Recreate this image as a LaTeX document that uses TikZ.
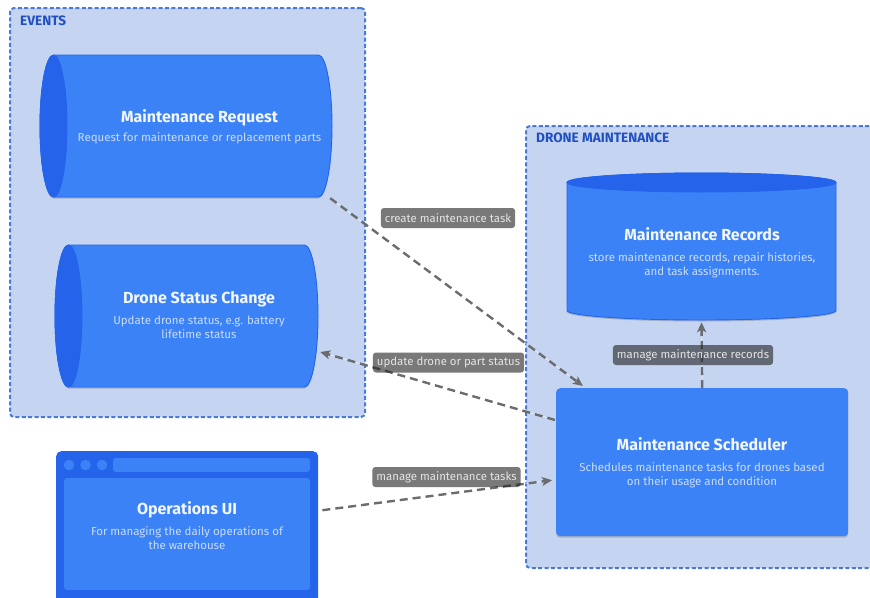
\documentclass[tikz,border=0pt]{standalone}
\usepackage{fontspec}
\setmainfont{Fira Sans}
\usetikzlibrary{arrows.meta,shadows}

\definecolor{grpfill}{HTML}{C5D5F1}
\definecolor{grpline}{HTML}{4B7AD6}
\definecolor{grptext}{HTML}{2150C0}
\definecolor{blueA}{HTML}{3B82F6}
\definecolor{blueB}{HTML}{2563EB}
\definecolor{titletext}{HTML}{F2F7FF}
\definecolor{desctext}{HTML}{C9DCFC}
\definecolor{connline}{HTML}{6B6C70}
\definecolor{lblfill}{HTML}{262626}
\definecolor{lbltext}{HTML}{E4E4E4}

\tikzset{
  grp/.style={draw=grpline, fill=grpfill, line width=2pt,
    dash pattern=on 4pt off 2.4pt, rounded corners=4pt, inner sep=0},
  grptitle/.style={anchor=base west, text=grptext, inner sep=0,
    font=\bfseries\fontsize{13.6}{16}\selectfont},
  shapebox/.style={rectangle, draw=none, fill=none, inner sep=0},
  sdw/.style={drop shadow={shadow xshift=0pt, shadow yshift=-1.5pt,
    opacity=.18, fill=black}},
  cylbody/.style={fill=blueA, draw=blueB, line width=.9pt, sdw},
  cylcap/.style={fill=blueB, draw=blueB, line width=.9pt},
  ttl/.style={anchor=base, text=titletext, inner sep=0,
    font=\bfseries\fontsize{16}{19}\selectfont},
  dsc/.style={anchor=base, text=desctext, inner sep=0, align=center,
    font=\fontsize{11.5}{14}\selectfont},
  conn/.style={draw=connline, line width=2.4pt, dash pattern=on 8pt off 5pt,
    -{Stealth[length=10pt,width=9pt,inset=2.5pt]},
    preaction={draw=white, draw opacity=.55, line width=.8pt, solid, -}},
  lbl/.style={fill=lblfill, fill opacity=.62, text opacity=1, text=lbltext,
    rounded corners=3pt, inner xsep=4pt, inner ysep=0, minimum height=20pt,
    font=\fontsize{11.4}{13}\selectfont}
}

\begin{document}
\begin{tikzpicture}[x=1pt,y=1pt]
\useasboundingbox (0,0) rectangle (870,-597);
\clip (0,0) rectangle (870,-597);

% ---- groups
\node[grp, minimum width=355, minimum height=409, anchor=north west] (events) at (9,-7) {};
\node[grptitle] (events-t) at (20,-25) {EVENTS};
\node[grp, minimum width=360, minimum height=442, anchor=north west] (dronemt) at (525,-125) {};
\node[grptitle] (dronemt-t) at (536,-142.3) {DRONE MAINTENANCE};

% ---- Maintenance Request (horizontal cylinder)
\path[cylbody] (53.5,-55) -- (318.5,-55)
  arc[start angle=90, end angle=-90, x radius=13.5, y radius=71]
  -- (53.5,-197)
  arc[start angle=270, end angle=90, x radius=13.5, y radius=71] -- cycle;
\path[cylcap] (53.5,-126) ellipse [x radius=13.5, y radius=71];
\node[shapebox, minimum width=292, minimum height=142] (mreq) at (186,-126) {};
\node[ttl] (mreq-t) at (199.5,-122) {Maintenance Request};
\node[dsc] (mreq-d) at (199.5,-141.5) {Request for maintenance or replacement parts};

% ---- Drone Status Change (horizontal cylinder)
\path[cylbody] (68.5,-245) -- (304.5,-245)
  arc[start angle=90, end angle=-90, x radius=13.5, y radius=71]
  -- (68.5,-387)
  arc[start angle=270, end angle=90, x radius=13.5, y radius=71] -- cycle;
\path[cylcap] (68.5,-316) ellipse [x radius=13.5, y radius=71];
\node[shapebox, minimum width=263, minimum height=142] (dsc) at (186.5,-316) {};
\node[ttl] (dsc-t) at (199,-303.5) {Drone Status Change};
\node[dsc] (dsc-d1) at (199,-324) {Update drone status, e.g. battery};
\node[dsc] (dsc-d2) at (199,-338) {lifetime status};

% ---- Maintenance Records (vertical cylinder)
\path[cylbody] (567,-182.5) -- (567,-310.5)
  arc[start angle=180, end angle=360, x radius=134.5, y radius=9.5]
  -- (836,-182.5)
  arc[start angle=0, end angle=180, x radius=134.5, y radius=9.5] -- cycle;
\path[cylcap] (701.5,-182.5) ellipse [x radius=134.5, y radius=9.5];
\node[shapebox, minimum width=269, minimum height=147] (rec) at (701.5,-246.5) {};
\node[ttl] (rec-t) at (702,-240.7) {Maintenance Records};
\node[dsc] (rec-d1) at (702,-261.7) {store maintenance records, repair histories,};
\node[dsc] (rec-d2) at (702,-275.7) {and task assignments.};

% ---- Maintenance Scheduler
\node[fill=blueA, rounded corners=4pt, sdw, inner sep=0, minimum width=292,
  minimum height=148, anchor=north west] (sched) at (556,-388) {};
\node[ttl] (sched-t) at (702,-450) {Maintenance Scheduler};
\node[dsc] (sched-d1) at (702,-471) {Schedules maintenance tasks for drones based};
\node[dsc] (sched-d2) at (702,-485) {on their usage and condition};

% ---- Operations UI (browser window)
\node[fill=blueB, rounded corners=5pt, inner sep=0, minimum width=262,
  minimum height=170, anchor=north west] (ops) at (56,-451) {};
\fill[blueA, rounded corners=3pt] (64,-478) rectangle (310,-590);
\fill[blueA] (69,-465) circle (5.3) (85.5,-465) circle (5.3) (102,-465) circle (5.3);
\fill[blueA, rounded corners=3pt] (113,-458) rectangle (310,-472);
\node[ttl] (ops-t) at (187,-514) {Operations UI};
\node[dsc] (ops-d1) at (187,-535) {For managing the daily operations of};
\node[dsc] (ops-d2) at (187,-549.3) {the warehouse};

% ---- connectors
\draw[conn] ([xshift=-2pt,yshift=-1pt]mreq.south east) -- ([xshift=27pt,yshift=2pt]sched.north west);
\draw[conn] ([xshift=-1pt,yshift=-32pt]sched.north west) -- ([xshift=2pt,yshift=-36pt]dsc.east);
\draw[conn] ([xshift=4pt,yshift=26pt]ops.east) -- ([xshift=-4pt,yshift=-18pt]sched.west);
\draw[conn] (sched.north) -- ([yshift=-2pt]rec.south);

% ---- connector labels
\node[lbl] (l-create) at (448,-218) {create maintenance task};
\node[lbl] (l-update) at (448.5,-362.5) {update drone or part status};
\node[lbl] (l-tasks) at (446.5,-477) {manage maintenance tasks};
\node[lbl] (l-records) at (693,-355) {manage maintenance records};
\end{tikzpicture}
\end{document}
